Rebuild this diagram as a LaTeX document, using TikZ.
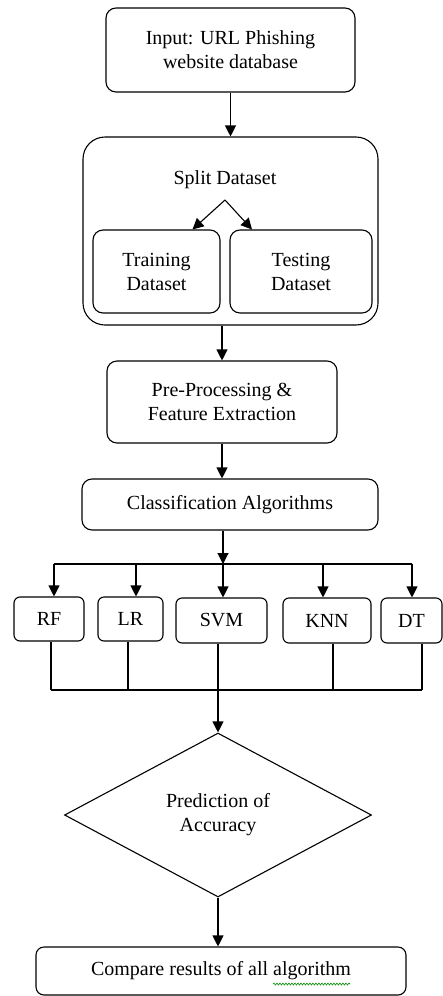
\documentclass[tikz,border=0pt]{standalone}
\usepackage{fontspec}
\setmainfont{Liberation Serif}
\usetikzlibrary{shapes.geometric,arrows.meta,calc,decorations.pathmorphing}
\begin{document}
\begin{tikzpicture}[x=1pt,y=-1pt,
  box/.style={draw,line width=1.1pt,rounded corners=10pt,inner sep=0pt,align=center,font=\fontsize{20}{24}\selectfont},
  sbox/.style={box,rounded corners=6pt},
  arr/.style={line width=1.1pt,-{Triangle[length=11pt,width=11pt]}},
  ln/.style={line width=1.1pt},
  txt/.style={inner sep=0pt,align=center,font=\fontsize{20}{24}\selectfont}]
\useasboundingbox (0,0) rectangle (443,996);
\node[box,minimum width=249pt,minimum height=84pt] (input) at (230.5,50) {Input: URL Phishing\\website database};
\node[box,rounded corners=22pt,minimum width=295pt,minimum height=188pt] (split) at (230.5,231) {};
\node[txt] (splittxt) at (225,180) {Split Dataset};
\node[box,minimum width=127pt,minimum height=83pt] (train) at (156.5,271.5) {Training\\Dataset};
\node[box,minimum width=142pt,minimum height=83pt] (test) at (301,271.5) {Testing\\Dataset};
\coordinate (fork) at (225,200);
\node[box,minimum width=230pt,minimum height=82pt] (pre) at (222,402) {Pre-Processing \&\\Feature Extraction};
\node[box,minimum width=296pt,minimum height=51pt] (cls) at (230,504.5) {Classification Algorithms};
\node[sbox,minimum width=70pt,minimum height=44pt] (rf) at (49,619) {RF};
\node[sbox,minimum width=65pt,minimum height=44pt] (lr) at (130.5,619) {LR};
\node[sbox,minimum width=91pt,minimum height=45pt] (svm) at (221.5,620.5) {SVM};
\node[sbox,minimum width=88pt,minimum height=45pt] (knn) at (327,620.5) {KNN};
\node[sbox,minimum width=61pt,minimum height=45pt] (dt) at (411.5,620.5) {DT};
\node[draw,diamond,line width=1.1pt,minimum width=307pt,minimum height=164pt,inner sep=0pt,align=center,font=\fontsize{20}{24}\selectfont] (pred) at (218,815) {Prediction of\\Accuracy};
\node[box,rounded corners=8pt,minimum width=370pt,minimum height=48pt] (cmp) at (221,971) {Compare results of all algorithm};
\draw[green!55!black,line width=0.6pt,decorate,decoration={snake,amplitude=1pt,segment length=3pt}] (273,984) -- (350,984);

\draw[arr] (input.south) -- (input.south |- split.north);
\draw[arr] (fork) -- ($(train.north)+(36,0)$);
\draw[arr] (fork) -- ($(test.north)+(-49,0)$);
\draw[arr] (pre.north |- split.south) -- (pre.north);
\draw[arr] (pre.south) -- (pre.south |- cls.north);

\coordinate (b1) at (54,564);
\coordinate (b2) at (136,564);
\coordinate (b3) at (223,564);
\coordinate (b4) at (323,564);
\coordinate (b5) at (412,564);
\draw[arr] (cls.south -| b3) -- (b3);
\draw[ln] (b1) -- (b5);
\draw[arr] (b1) -- (b1 |- rf.north);
\draw[arr] (b2) -- (b2 |- lr.north);
\draw[arr] (b3) -- (b3 |- svm.north);
\draw[arr] (b4) -- (b4 |- knn.north);
\draw[arr] (b5) -- (b5 |- dt.north);

\coordinate (c1) at (51,690);
\coordinate (c2) at (128,690);
\coordinate (c3) at (218,690);
\coordinate (c4) at (333,690);
\coordinate (c5) at (422,690);
\draw[ln] (c1 |- rf.south) -- (c1);
\draw[ln] (c2 |- lr.south) -- (c2);
\draw[ln] (c3 |- svm.south) -- (c3);
\draw[ln] (c4 |- knn.south) -- (c4);
\draw[ln] (c5 |- dt.south) -- (c5);
\draw[ln] (c1) -- (c5);
\draw[arr] (c3) -- (c3 |- pred.north);
\draw[arr] (pred.south) -- (pred.south |- cmp.north);
\end{tikzpicture}
\end{document}
